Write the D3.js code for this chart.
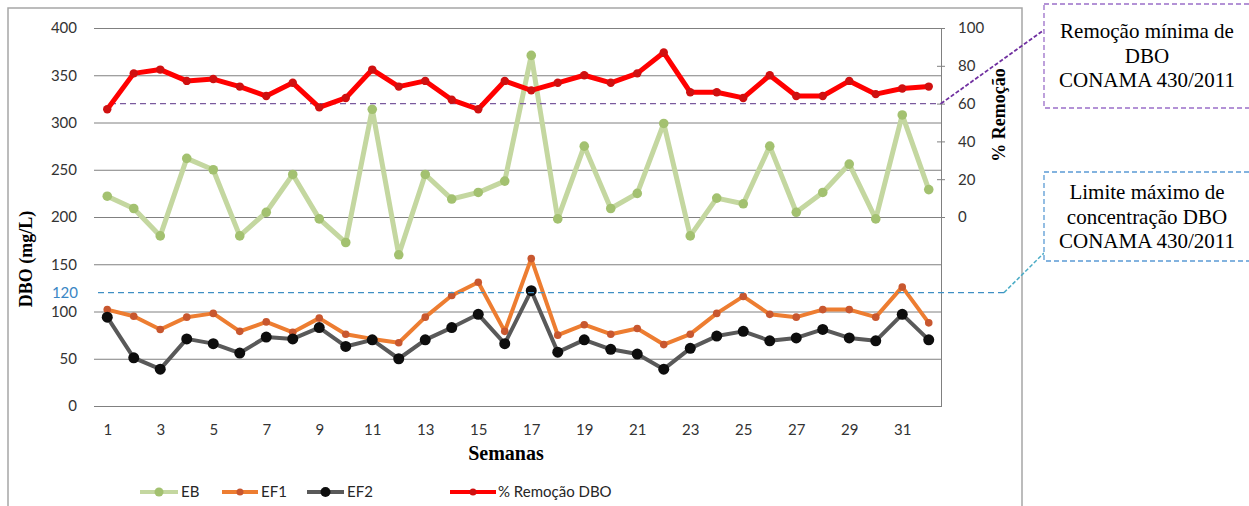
<!DOCTYPE html>
<html>
<head>
<meta charset="utf-8">
<script src="https://cdn.jsdelivr.net/npm/d3@7"></script>
<style>
  body { margin: 0; background: #fff; }
  svg text { font-family: Lato, "Liberation Sans", sans-serif; }
  .serif { font-family: "Liberation Serif", "Times New Roman", serif !important; }
</style>
</head>
<body>
<svg id="chart" width="1249" height="506"></svg>
<script>
// semanas
const weeks = [1,2,3,4,5,6,7,8,9,10,11,12,13,14,15,16,17,18,19,20,21,22,23,24,25,26,27,28,29,30,31,32];
const weekLabels = [1,3,5,7,9,11,13,15,17,19,21,23,25,27,29,31];

// DBO (mg/L)
const EB  = [222,209,180,262,250,180,205,245,198,173,314,160,245,219,226,238,371,198,275,209,225,299,180,220,214,275,205,226,256,198,308,229];
const EF1 = [102,95,81,94,98,79,89,78,93,76,71,67,94,117,131,79,156,75,86,76,82,65,76,98,116,97,94,102,102,94,126,88];
const EF2 = [94,51,39,71,66,56,73,71,83,63,70,50,70,83,97,66,122,57,70,60,55,39,61,74,79,69,72,81,72,69,97,70];
// % Remoção DBO
const REM = [57,76,78,72,73,69,64,71,58,63,78,69,72,62,57,72,67,71,75,71,76,87,66,66,63,75,64,64,72,65,68,69];

const leftTicks = [0,50,100,150,200,250,300,350,400];
const rightTicks = [0,20,40,60,80,100];
const limiteDBO = 120;   // mg/L
const remocaoMin = 60;   // %

const svg = d3.select('#chart');

const x = d3.scalePoint().domain(weeks).range([94, 942]).padding(0.5);
const yL = d3.scaleLinear().domain([0, 400]).range([406, 28]);
const yR = d3.scaleLinear().domain([-100, 100]).range([406, 28]);

// outer frame
svg.append('rect')
    .attr('x', 8).attr('y', 8)
    .attr('width', 1014).attr('height', 500)
    .attr('fill', 'none')
    .attr('stroke', '#a6a6a6')
    .attr('stroke-width', 1.5);

// left axis + gridlines
const gL = svg.append('g')
    .attr('transform', 'translate(94,0)')
    .call(d3.axisLeft(yL).tickValues(leftTicks).tickSize(-848).tickPadding(17));
gL.select('.domain').remove();
gL.selectAll('.tick line').attr('stroke', '#808080');
gL.selectAll('.tick text').attr('font-size', 15).attr('fill', '#333');

// right axis
const gR = svg.append('g')
    .attr('transform', 'translate(941,0)')
    .call(d3.axisRight(yR).tickValues(rightTicks).tickSizeInner(4).tickSizeOuter(0).tickPadding(13));
gR.select('.domain').attr('stroke', '#808080');
gR.selectAll('.tick line').attr('x1', -4).attr('stroke', '#808080');
gR.selectAll('.tick text').attr('font-size', 15).attr('fill', '#333');

// bottom axis
const gB = svg.append('g')
    .attr('transform', 'translate(0,406)')
    .call(d3.axisBottom(x).tickValues(weekLabels).tickSize(0).tickPadding(18));
gB.select('.domain').remove();
gB.selectAll('.tick text').attr('font-size', 15).attr('fill', '#333');

// axis titles
svg.append('text').attr('class', 'serif')
    .attr('transform', 'translate(32,259) rotate(-90)')
    .attr('text-anchor', 'middle')
    .attr('font-size', 18).attr('font-weight', 'bold')
    .text('DBO (mg/L)');

svg.append('text').attr('class', 'serif')
    .attr('transform', 'translate(1005,115) rotate(-90)')
    .attr('text-anchor', 'middle')
    .attr('font-size', 18).attr('font-weight', 'bold')
    .text('% Remoção');

svg.append('text').attr('class', 'serif')
    .attr('x', 506).attr('y', 460)
    .attr('text-anchor', 'middle')
    .attr('font-size', 20).attr('font-weight', 'bold')
    .text('Semanas');

// series
function drawSeries(data, yScale, lineColor, lineWidth, dotColor, r) {
    const line = d3.line()
        .x((d, i) => x(weeks[i]))
        .y(d => yScale(d));
    svg.append('path')
        .datum(data)
        .attr('d', line)
        .attr('fill', 'none')
        .attr('stroke', lineColor)
        .attr('stroke-width', lineWidth)
        .attr('stroke-linejoin', 'round');
    svg.append('g').selectAll('circle')
        .data(data)
        .join('circle')
        .attr('cx', (d, i) => x(weeks[i]))
        .attr('cy', d => yScale(d))
        .attr('r', r)
        .attr('fill', dotColor);
}

drawSeries(EB, yL, '#c4d7a0', 5, '#a3c170', 4.8);
drawSeries(EF1, yL, '#ed7d31', 4, '#c8572f', 3.8);
drawSeries(EF2, yL, '#595959', 4, '#0d0d0d', 5.5);

// reference lines
svg.append('line')
    .attr('x1', 98).attr('x2', 1004)
    .attr('y1', yL(limiteDBO)).attr('y2', yL(limiteDBO))
    .attr('stroke', '#3f8fc4').attr('stroke-width', 1.3)
    .attr('stroke-dasharray', '6,4');
svg.append('line')
    .attr('x1', 1004).attr('y1', yL(limiteDBO))
    .attr('x2', 1044).attr('y2', 253)
    .attr('stroke', '#4bacc6').attr('stroke-width', 1.5)
    .attr('stroke-dasharray', '4,2');
svg.append('text')
    .attr('x', 78).attr('y', yL(limiteDBO))
    .attr('dy', '0.35em')
    .attr('text-anchor', 'end')
    .attr('font-size', 15).attr('fill', '#3a86c4')
    .text(limiteDBO);

svg.append('line')
    .attr('x1', 110).attr('x2', 941)
    .attr('y1', yR(remocaoMin)).attr('y2', yR(remocaoMin))
    .attr('stroke', '#7a5a9e').attr('stroke-width', 1.4)
    .attr('stroke-dasharray', '6,4');
svg.append('line')
    .attr('x1', 941).attr('y1', yR(remocaoMin))
    .attr('x2', 1044).attr('y2', 30)
    .attr('stroke', '#7030a0').attr('stroke-width', 1.8)
    .attr('stroke-dasharray', '4,2');

drawSeries(REM, yR, '#ff0000', 5, '#d01010', 4.2);

// callouts
function callout(y0, h, color, lines, baseY) {
    svg.append('rect')
        .attr('x', 1044).attr('y', y0)
        .attr('width', 215).attr('height', h)
        .attr('fill', '#fff')
        .attr('stroke', color).attr('stroke-width', 1.3)
        .attr('stroke-dasharray', '5,3');
    svg.append('g').selectAll('text')
        .data(lines)
        .join('text')
        .attr('class', 'serif')
        .attr('x', 1147)
        .attr('y', (d, i) => baseY + i * 24.5)
        .attr('text-anchor', 'middle')
        .attr('font-size', 21)
        .attr('fill', '#000')
        .text(d => d);
}
callout(4, 104, '#9b6fc9', ['Remoção mínima de', 'DBO', 'CONAMA 430/2011'], 38);
callout(172, 89, '#5b9bd5', ['Limite máximo de', 'concentração DBO', 'CONAMA 430/2011'], 199);

// legend
const legendItems = [
    { name: 'EB', color: '#c4d7a0', dot: '#a3c170', r: 4.5, x1: 140, x2: 178, tx: 181 },
    { name: 'EF1', color: '#ed7d31', dot: '#c8572f', r: 3.5, x1: 222, x2: 258, tx: 261 },
    { name: 'EF2', color: '#595959', dot: '#0d0d0d', r: 5, x1: 307, x2: 344, tx: 347 },
    { name: '% Remoção DBO', color: '#ff0000', dot: '#d01010', r: 3.5, x1: 450, x2: 496, tx: 498 }
];
const lg = svg.append('g').selectAll('g').data(legendItems).join('g');
lg.append('line')
    .attr('x1', d => d.x1).attr('x2', d => d.x2)
    .attr('y1', 492).attr('y2', 492)
    .attr('stroke', d => d.color).attr('stroke-width', 4);
lg.append('circle')
    .attr('cx', d => (d.x1 + d.x2) / 2).attr('cy', 492)
    .attr('r', d => d.r).attr('fill', d => d.dot);
lg.append('text')
    .attr('x', d => d.tx).attr('y', 492).attr('dy', '0.35em')
    .attr('font-size', 15).attr('fill', '#262626')
    .text(d => d.name);
</script>
</body>
</html>
